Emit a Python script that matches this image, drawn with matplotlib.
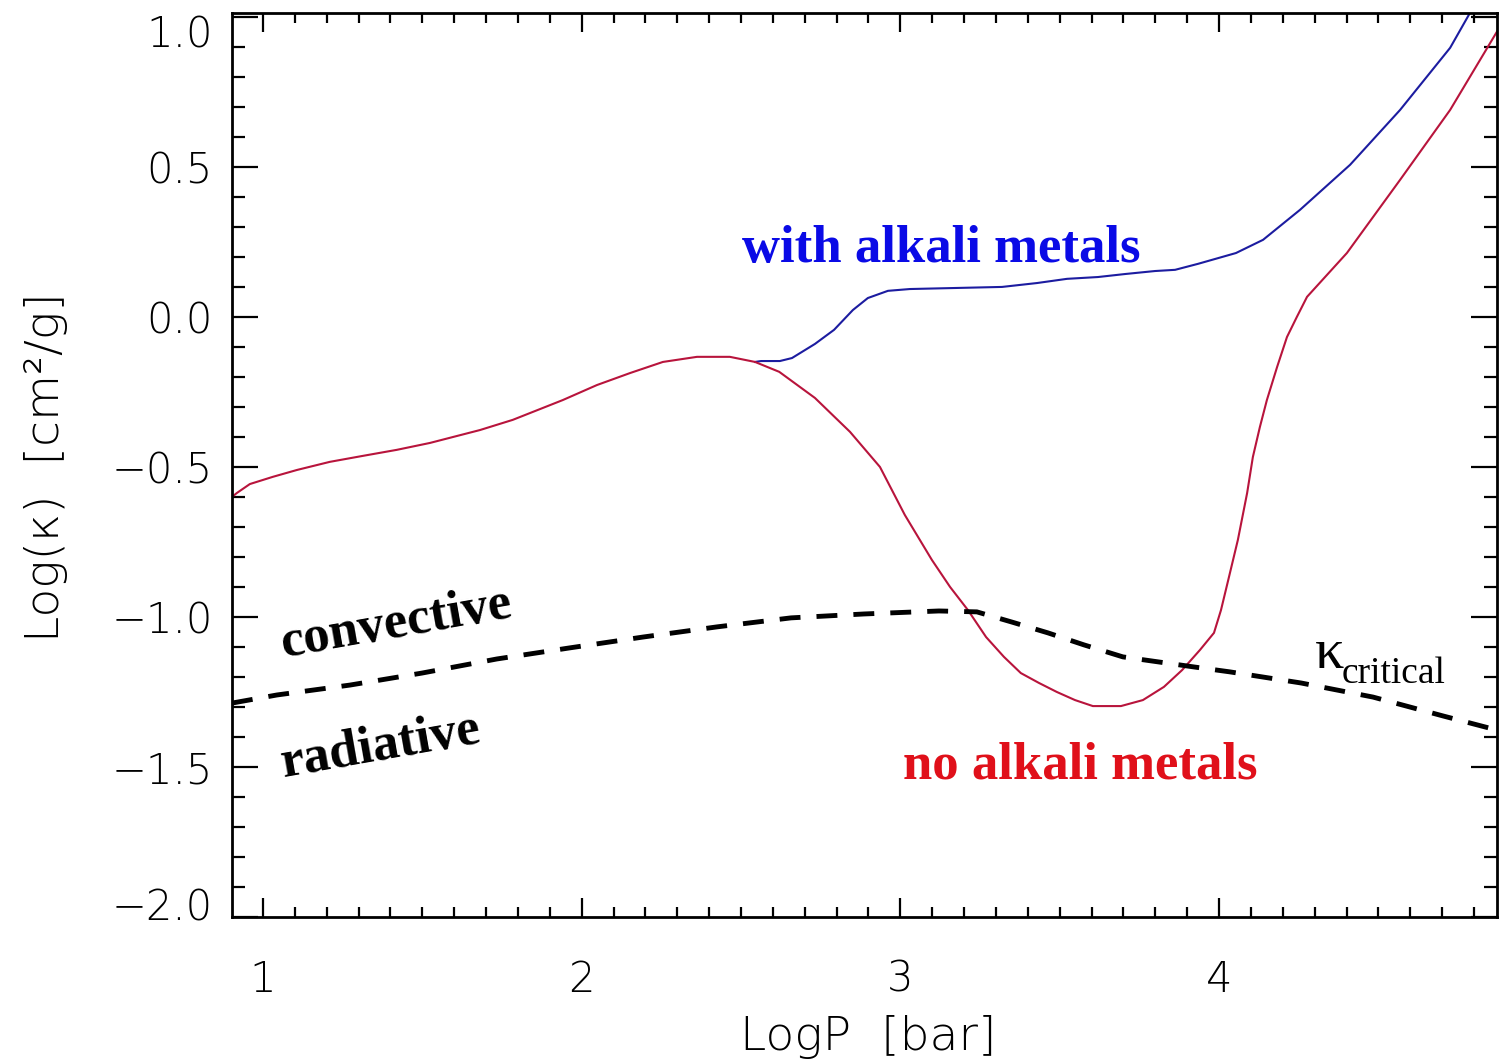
import numpy as np
import matplotlib
matplotlib.use("Agg")
import matplotlib.pyplot as plt
from matplotlib.ticker import MultipleLocator, FuncFormatter
from matplotlib.transforms import ScaledTranslation

# LogP [bar] vs Log(kappa)
# no alkali metals (red), also the shared part up to the split
red_x = [0.903, 0.918, 0.959, 1.031, 1.107, 1.210, 1.314, 1.420, 1.524, 1.681,
         1.784, 1.941, 2.048, 2.152, 2.255, 2.362, 2.465, 2.544, 2.620, 2.732,
         2.842, 2.936, 3.014, 3.099, 3.156, 3.212, 3.269, 3.325, 3.378, 3.435,
         3.491, 3.548, 3.604, 3.692, 3.761, 3.827, 3.884, 3.940, 3.984, 4.006,
         4.031, 4.059, 4.088, 4.106, 4.128, 4.150, 4.182, 4.213, 4.244, 4.276,
         4.401, 4.568, 4.725, 4.881]
red_y = [-0.600, -0.587, -0.557, -0.533, -0.510, -0.483, -0.463, -0.443, -0.420, -0.377,
         -0.343, -0.277, -0.227, -0.187, -0.150, -0.133, -0.133, -0.150, -0.183, -0.270,
         -0.383, -0.500, -0.660, -0.810, -0.900, -0.977, -1.067, -1.133, -1.187, -1.220,
         -1.250, -1.277, -1.297, -1.297, -1.277, -1.233, -1.177, -1.110, -1.053, -0.977,
         -0.867, -0.743, -0.587, -0.467, -0.367, -0.277, -0.167, -0.067, 0.000, 0.067,
         0.213, 0.457, 0.690, 0.967]

# with alkali metals (blue), from where it leaves the red curve
blue_x = [2.544, 2.563, 2.622, 2.660, 2.732, 2.792, 2.851, 2.898, 2.961, 3.030,
          3.319, 3.429, 3.523, 3.620, 3.705, 3.799, 3.862, 3.934, 4.053, 4.138,
          4.254, 4.411, 4.568, 4.725, 4.787]
blue_y = [-0.150, -0.147, -0.147, -0.137, -0.090, -0.043, 0.023, 0.063, 0.087, 0.093,
          0.100, 0.113, 0.127, 0.133, 0.143, 0.153, 0.157, 0.177, 0.213, 0.257,
          0.357, 0.507, 0.690, 0.897, 1.013]

# kappa critical (dashed)
crit_x = [0.903, 1.044, 1.273, 1.499, 1.734, 1.963, 2.192, 2.425, 2.657, 2.886,
          3.121, 3.240, 3.350, 3.463, 3.576, 3.698, 3.924, 4.034, 4.257, 4.483,
          4.703, 4.872]
crit_y = [-1.287, -1.260, -1.227, -1.187, -1.140, -1.103, -1.067, -1.033, -1.003, -0.990,
          -0.980, -0.983, -1.017, -1.053, -1.093, -1.133, -1.167, -1.183, -1.220, -1.267,
          -1.330, -1.377]

fig = plt.figure(figsize=(15.01, 10.64), dpi=100)
ax = fig.add_axes([232/1501, 147/1064, 1265/1501, 904/1064])

ax.plot(blue_x, blue_y, color='#1c1ca0', lw=1.5)
ax.plot(red_x, red_y, color='#b8143c', lw=1.5)
ax.plot(crit_x, crit_y, color='black', lw=3.5, linestyle=(0, (4.3, 3.3)))

ax.set_xlim(0.903, 4.872)
ax.set_ylim(-2.0, 1.013)

ax.xaxis.set_major_locator(MultipleLocator(1))
ax.xaxis.set_minor_locator(MultipleLocator(0.1))
ax.yaxis.set_major_locator(MultipleLocator(0.5))
ax.yaxis.set_minor_locator(MultipleLocator(0.1))

ax.tick_params(axis='both', which='both', direction='in', top=True, right=True,
               width=1.6, colors='black')
ax.tick_params(axis='x', which='major', length=14, pad=30, labelsize=30)
ax.tick_params(axis='x', which='minor', length=7)
ax.tick_params(axis='y', which='major', length=19, pad=14, labelsize=30)
ax.tick_params(axis='y', which='minor', length=9.4)
ax.yaxis.set_major_formatter(FuncFormatter(lambda v, p: f"{v:.1f}".replace('-', '\u2212')))

for s in ax.spines.values():
    s.set_linewidth(2.0)

ax.set_xlabel('LogP  [bar]', fontsize=34, fontweight='light', va='center')
ax.xaxis.set_label_coords(0.503, -0.133)
ax.set_ylabel('Log(κ)  [cm²/g]', fontsize=34, fontweight='light', va='center')
ax.yaxis.set_label_coords(-0.147, 0.498)

serif = ['Liberation Serif', 'DejaVu Serif']
ax.text(2.503, 0.183, 'with alkali metals', color='#0a0ae6', fontsize=38,
        fontweight='bold', family=serif, va='baseline', ha='left')
ax.text(3.008, -1.537, 'no alkali metals', color='#e0101a', fontsize=38,
        fontweight='bold', family=serif, va='baseline', ha='left')
ax.text(1.063, -1.133, 'convective', color='black', fontsize=38, fontweight='bold',
        family=serif, rotation=10, rotation_mode='anchor', va='baseline', ha='left')
ax.text(1.063, -1.533, 'radiative', color='black', fontsize=38, fontweight='bold',
        family=serif, rotation=10, rotation_mode='anchor', va='baseline', ha='left')
ax.text(4.300, -1.17, 'κ', color='black', fontsize=42, family=serif,
        va='baseline', ha='left')
ax.text(4.386, -1.22, 'critical', color='black', fontsize=27, family=serif,
        va='baseline', ha='left')

# end labels sit inside the axis range like the original
fig.canvas.draw()
for t in ax.yaxis.get_major_ticks():
    for lbl in (t.label1, t.label2):
        lbl.set_fontweight('light')
    if abs(t.get_loc() - 1.0) < 1e-6:
        t.label1.set_transform(t.label1.get_transform() +
                               ScaledTranslation(0, -0.14, fig.dpi_scale_trans))
    if abs(t.get_loc() + 2.0) < 1e-6:
        t.label1.set_transform(t.label1.get_transform() +
                               ScaledTranslation(0, 0.13, fig.dpi_scale_trans))
for t in ax.xaxis.get_major_ticks():
    t.label1.set_fontweight('light')

fig.savefig('out.png', dpi=100)
